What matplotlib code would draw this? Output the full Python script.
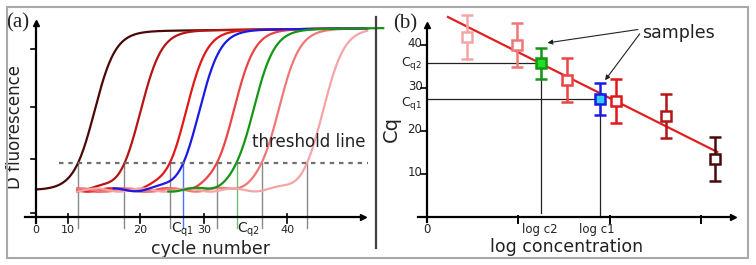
import numpy as np
import matplotlib.pyplot as plt

# ---- panel (a): amplification curves, described by their threshold cycle ----
curve_cq = [6.0, 12.6, 19.1, 25.9, 32.3, 38.7, 21.0, 28.7]
curve_start = [0.0, 5.9, 5.9, 5.9, 5.9, 5.9, 11.1, 18.9]
curve_end = [47.3, 47.3, 47.3, 47.3, 47.3, 47.3, 47.3, 49.6]
curve_wobble = [0.0, 1.0, 2.5, 4.0, 5.0, 0.5, 3.0, 1.5]
curve_colors = ['#4a0808', '#b41414', '#e01818', '#eb4444', '#f07777', '#f5a5a5',
                '#1a1ae6', '#149614']
baseline = 0.49
plateau = 3.36
threshold = 0.98
steepness = 1.5

xtick_pos_a = [4.6, 14.9, 24.0, 35.9]
xtick_lab_a = ['10', '20', '30', '40']
ytick_pos_a = [0.07, 1.05, 2.0, 3.05]

# ---- panel (b): standard curve ----
std_logc = [0.44, 0.99, 1.53, 2.07, 2.62, 3.15]
std_cq = [41.9, 40.0, 31.9, 27.0, 23.5, 13.5]
std_err = [5.1, 5.1, 5.1, 5.1, 5.1, 5.1]
std_colors = ['#f5a5a5', '#f07777', '#eb4444', '#e01818', '#b41414', '#4a0808']

sample_logc = [1.89, 1.25]
sample_cq = [27.4, 35.8]
sample_err = [3.7, 3.6]
sample_edge = ['#1a1ae6', '#149614']
sample_face = ['#33ccff', '#22dd22']

fit_slope = -10.64
fit_intercept = 48.95
fit_range = [0.23, 3.18]

ytick_b = [10, 20, 30, 40]
xtick_b = [1, 2, 3]

fig = plt.figure(figsize=(7.56, 2.65), dpi=100)

# ================= panel (a) =================
ax = fig.add_axes([0, 0, 376 / 756, 1])
ax.set_xlim(-36 / 7, 340 / 7)
ax.set_ylim(-48 / 55, 217 / 55)
ax.axis('off')

for i in range(len(curve_cq)):
    c = np.linspace(curve_start[i], curve_end[i], 400)
    mid = curve_cq[i] + 1.58 * steepness
    frac = 1 / (1 + np.exp(-(c - mid) / steepness))
    wob = 0.03 * np.sin(2 * np.pi * (c - curve_wobble[i]) / 6.5) * (1 - frac) ** 3
    if i == 0:
        wob = wob * 0
    f = baseline + (plateau - baseline) * frac + wob + 0.0015 * c * frac
    ax.plot(c, f, color=curve_colors[i], lw=1.6, clip_on=False, zorder=3)

# threshold line
ax.plot([3.3, 47.4], [threshold, threshold], color='#707070', lw=1.6,
        dashes=(2, 2.2), zorder=4)
ax.text(30.9, 1.36, 'threshold line', fontsize=12, va='center', ha='left', color='#222')

# drop lines at threshold crossings
for i in range(len(curve_cq)):
    col = '#888888'
    if i == 6:
        col = '#5070ff'
    if i == 7:
        col = '#70c070'
    ax.plot([curve_cq[i], curve_cq[i]], [threshold, -0.2], color=col, lw=1.0, zorder=2)

# axes
ax.plot([-1.6, 46.7], [0, 0], color='black', lw=1.6, zorder=5)
ax.plot(46.7, 0, marker='>', ms=4, color='black', zorder=5)
ax.plot([0, 0], [-0.1, 3.53], color='black', lw=1.6, zorder=5)
ax.plot(0, 3.53, marker='^', ms=4, color='black', zorder=5)
for x in xtick_pos_a:
    ax.plot([x, x], [0.06, -0.11], color='black', lw=1.2, zorder=5)
for y in ytick_pos_a:
    ax.plot([-0.75, 0], [y, y], color='black', lw=1.2, zorder=5)

for x, lab in zip(xtick_pos_a, xtick_lab_a):
    ax.text(x, -0.24, lab, fontsize=8, ha='center', va='center', color='#222')
ax.text(0, -0.24, '0', fontsize=8, ha='center', va='center', color='#222')
ax.text(curve_cq[6], -0.24, r'$\mathregular{C_{q1}}$', fontsize=10, ha='center',
        va='center', color='#222')
ax.text(curve_cq[7], -0.24, r'$\mathregular{C_{q2}}$', fontsize=10, ha='left',
        va='center', color='#222')

ax.text(24.9, -0.58, 'cycle number', fontsize=12.5, ha='center', va='center', color='#222')
ax.text(-3.0, 1.64, 'D fluorescence', fontsize=12, rotation=90, ha='center',
        va='center', color='#222')
ax.text(-4.2, 3.53, '(a)', fontsize=15, family='Liberation Serif', ha='left',
        va='center', color='#222')

# ================= panel (b) =================
bx = fig.add_axes([376 / 756, 0, 380 / 756, 1])
bx.set_xlim(-51 / 91.3, 329 / 91.3)
bx.set_ylim(-48 / 4.3, 217 / 4.3)
bx.axis('off')

xs = np.array(fit_range)
bx.plot(xs, fit_intercept + fit_slope * xs, color='#e02020', lw=1.6, zorder=3)

for x, y, e, col in zip(std_logc, std_cq, std_err, std_colors):
    bx.errorbar(x, y, yerr=e, fmt='s', ms=7.5, mfc='white', mec=col, mew=1.8,
                ecolor=col, elinewidth=1.8, capsize=4, capthick=1.8, zorder=4)

for j, (x, y, e, ec, fc) in enumerate(zip(sample_logc, sample_cq, sample_err,
                                          sample_edge, sample_face)):
    bx.plot([0, x], [y, y], color='#222', lw=0.9, zorder=2)
    bx.plot([x, x], [y, 0.9 if j == 1 else 0], color='#222', lw=0.9, zorder=2)
    bx.errorbar(x, y, yerr=e, fmt='s', ms=7, mfc=fc, mec=ec, mew=1.8,
                ecolor=ec, elinewidth=1.8, capsize=4, capthick=1.8, zorder=5)

# axes
bx.plot([-0.1, 3.35], [0, 0], color='black', lw=1.6, zorder=5)
bx.plot(3.35, 0, marker='>', ms=4, color='black', zorder=5)
bx.plot([0, 0], [-1.2, 44.6], color='black', lw=1.6, zorder=5)
bx.plot(0, 44.6, marker='^', ms=4, color='black', zorder=5)
for x in xtick_b:
    bx.plot([x, x], [0.3, -1.3], color='black', lw=1.4, zorder=5)
for y in ytick_b:
    bx.plot([-0.07, 0], [y, y], color='black', lw=1.2, zorder=5)
    bx.text(-0.05, y + 0.3, str(y), fontsize=8.5, ha='right', va='center', color='#222')
bx.text(0, -3.0, '0', fontsize=8.5, ha='center', va='center', color='#222')
bx.text(-0.05, sample_cq[1], r'$\mathregular{C_{q2}}$', fontsize=9, ha='right',
        va='center', color='#222')
bx.text(-0.05, sample_cq[0] - 0.9, r'$\mathregular{C_{q1}}$', fontsize=9, ha='right',
        va='center', color='#222')
bx.text(sample_logc[1] - 0.01, -3.0, 'log c2', fontsize=8.5, ha='center', va='center', color='#222')
bx.text(sample_logc[0] - 0.03, -3.0, 'log c1', fontsize=8.5, ha='center', va='center', color='#222')

bx.text(1.53, -7.0, 'log concentration', fontsize=12.5, ha='center', va='center', color='#222')
bx.text(-0.39, 20.5, 'Cq', fontsize=14, rotation=90, ha='center', va='center', color='#222')
bx.text(-0.37, 44.9, '(b)', fontsize=15, family='Liberation Serif', ha='left',
        va='center', color='#222')

bx.text(2.36, 42.8, 'samples', fontsize=12.5, ha='left', va='center', color='#222')
bx.annotate('', xy=(1.32, 40.5), xytext=(2.31, 43.6),
            arrowprops=dict(arrowstyle='-|>', color='#222', lw=0.8,
                            mutation_scale=7, shrinkA=0, shrinkB=0))
bx.annotate('', xy=(1.95, 31.8), xytext=(2.33, 42.6),
            arrowprops=dict(arrowstyle='-|>', color='#222', lw=0.8,
                            mutation_scale=7, shrinkA=0, shrinkB=0))

# divider and frame
fig.add_artist(plt.Line2D([376 / 756, 376 / 756], [1 - 248 / 265, 1 - 17 / 265],
                          color='#404040', lw=1.6))
fig.add_artist(plt.Rectangle((7 / 756, 1 - 258 / 265), 741 / 756, 251 / 265,
                             fill=False, ec='#a8a8a8', lw=1.5))

fig.savefig('out.png', dpi=100)
